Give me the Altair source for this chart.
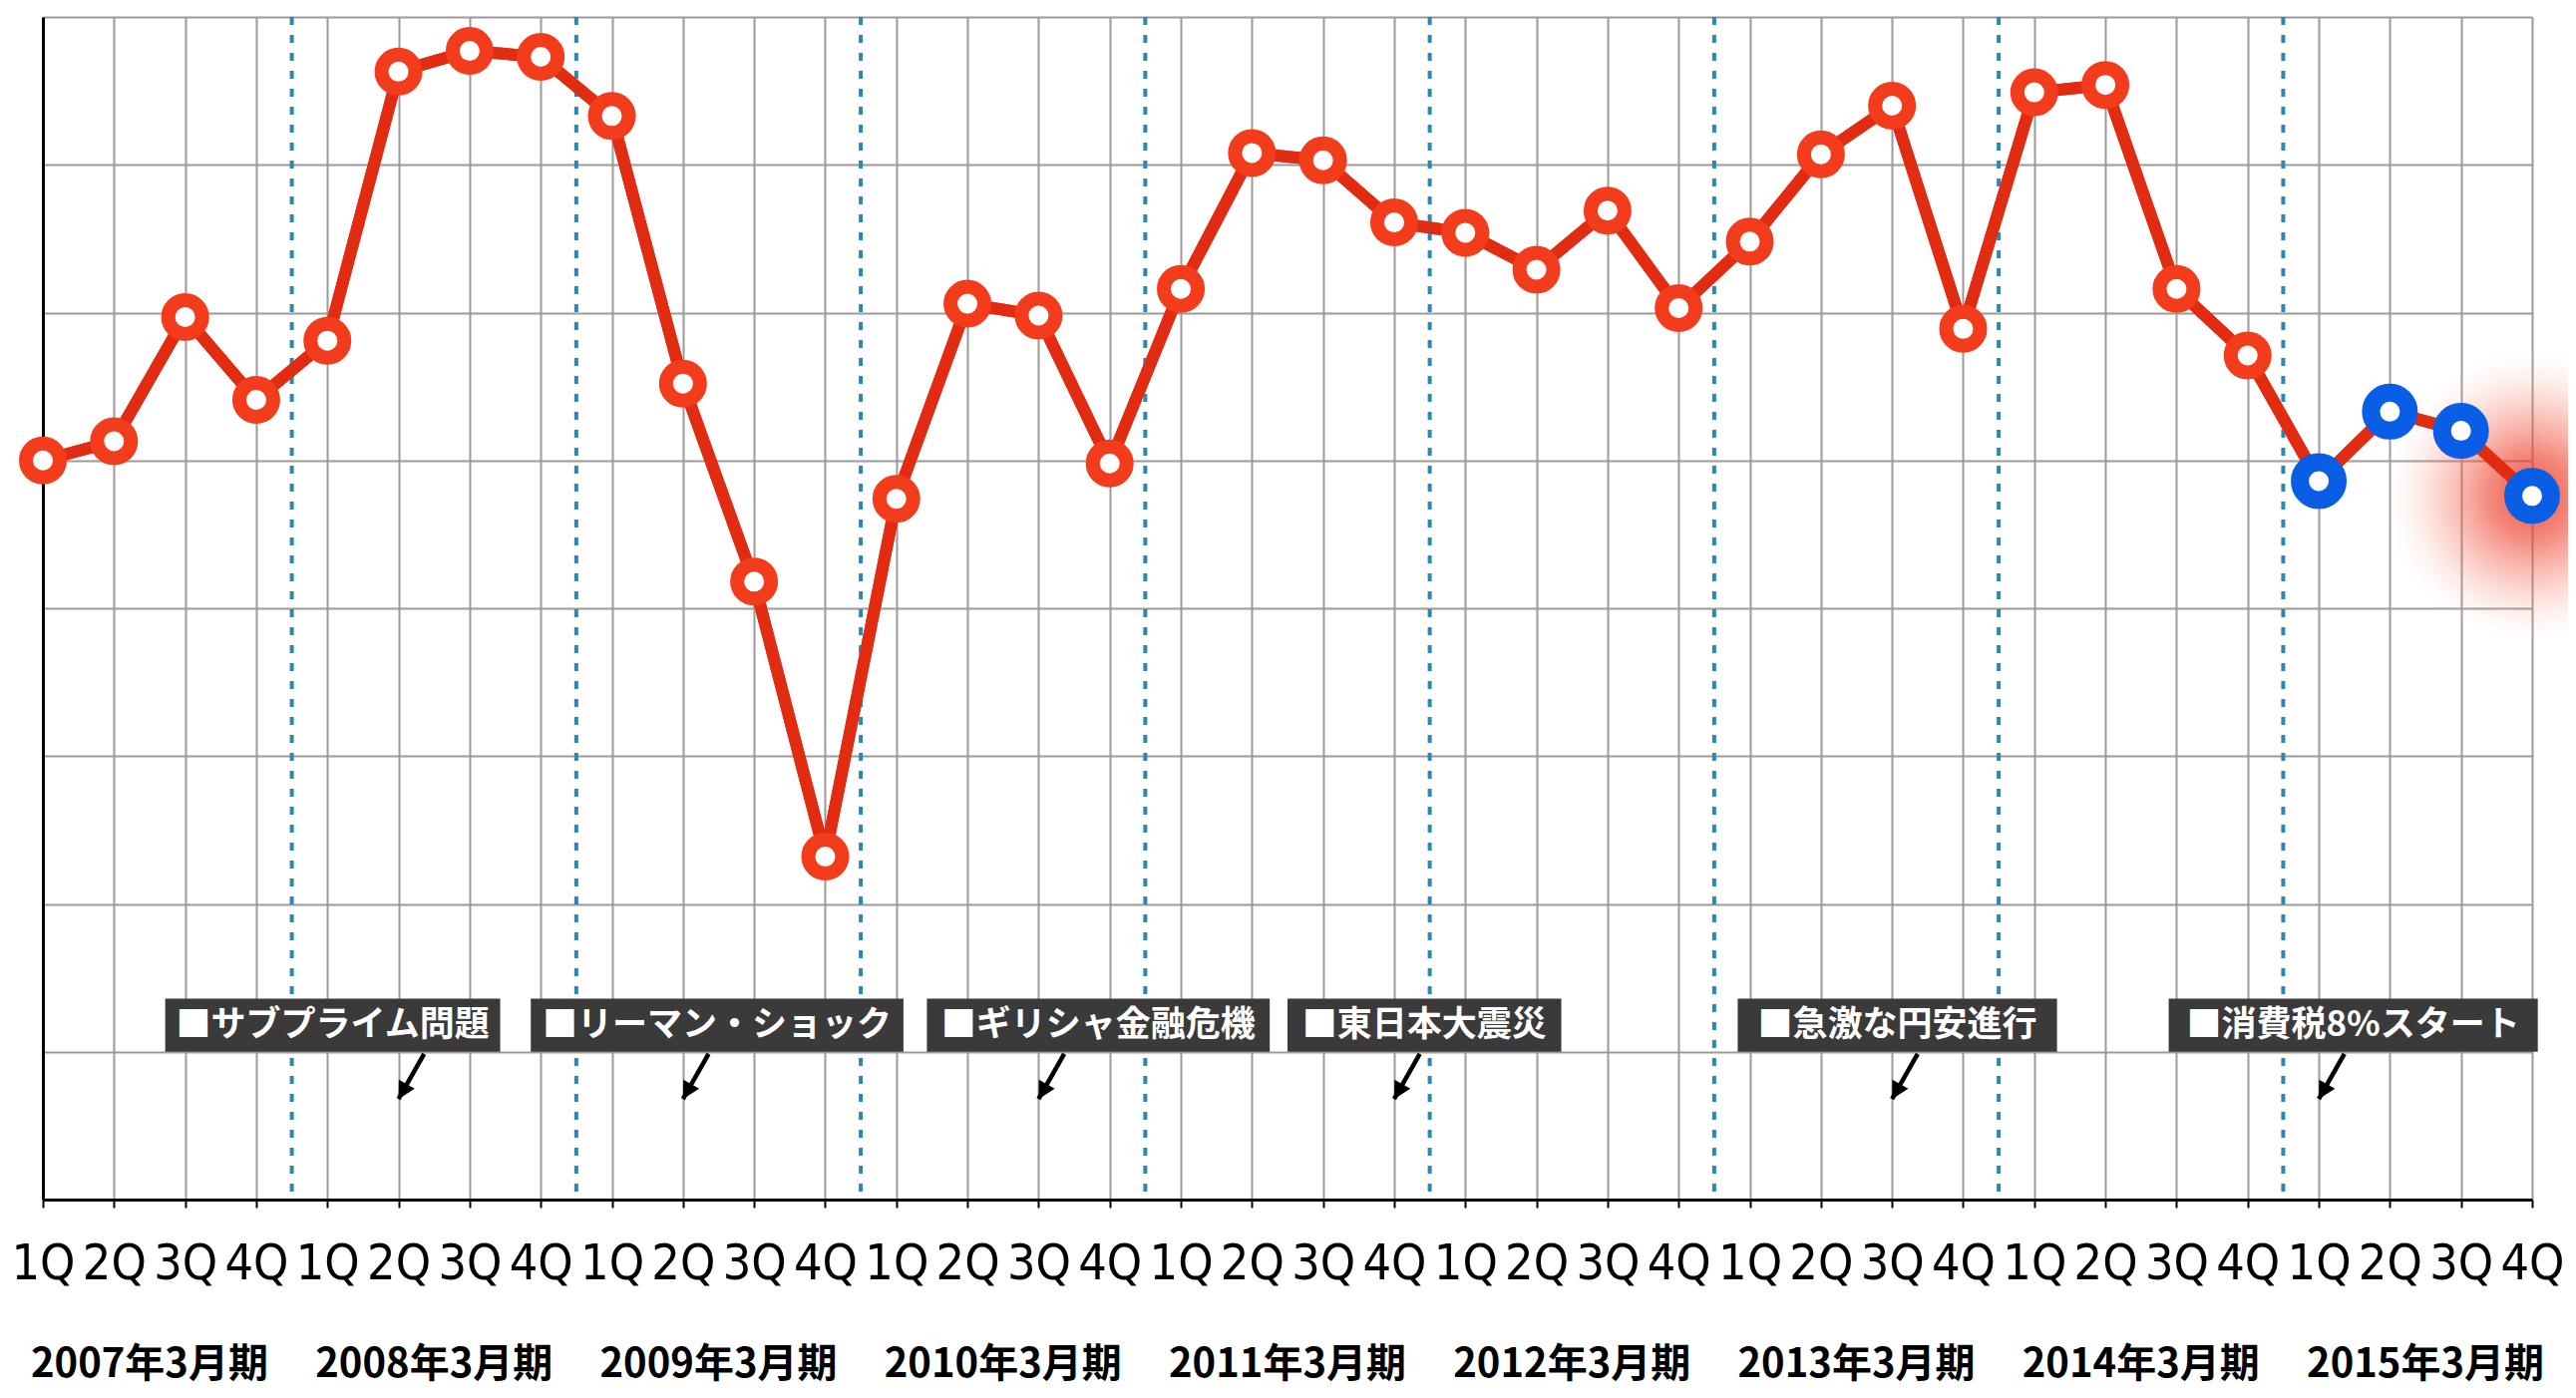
import altair as alt
import pandas as pd

# ---------------- data ----------------
quarter_labels = ["1Q", "2Q", "3Q", "4Q"]
fiscal_years = ["2007年3月期", "2008年3月期", "2009年3月期", "2010年3月期", "2011年3月期",
                "2012年3月期", "2013年3月期", "2014年3月期", "2015年3月期"]
values = [5.00, 5.13, 5.97, 5.41,
          5.81, 7.63, 7.77, 7.73,
          7.33, 5.52, 4.18, 2.32,
          4.74, 6.06, 5.98, 4.98,
          6.16, 7.08, 7.03, 6.61,
          6.54, 6.29, 6.69, 6.03,
          6.48, 7.07, 7.40, 5.89,
          7.49, 7.54, 6.16, 5.71,
          4.86, 5.33, 5.20, 4.76]
n_highlight = 4  # last four quarters drawn in blue

event_labels = ["■サブプライム問題", "■リーマン・ショック", "■ギリシャ金融危機",
                "■東日本大震災", "■急激な円安進行", "■消費税8%スタート"]
event_quarter = [5, 9, 14, 19, 26, 32]
box_start = [1.72, 6.86, 12.43, 17.50, 23.83, 29.89]
box_end = [6.43, 12.10, 17.25, 21.35, 28.32, 35.08]

# ---------------- frames ----------------
n = len(values)
df = pd.DataFrame({
    "i": list(range(n)),
    "v": values,
    "kind": ["actual"] * (n - n_highlight) + ["highlight"] * n_highlight,
})
df_years = pd.DataFrame({"xc": [4 * k + 1.5 for k in range(len(fiscal_years))],
                         "label": fiscal_years})
df_dash = pd.DataFrame({"x": [4 * k + 3.5 for k in range(len(fiscal_years) - 1)]})
df_ev = pd.DataFrame({
    "label": event_labels,
    "x0": box_start,
    "x1": box_end,
    "xc": [(a + b) / 2 for a, b in zip(box_start, box_end)],
    "tx": event_quarter,
    "sx": [q + 0.36 for q in event_quarter],
})
df_ev["y0"] = 1.0
df_ev["y1"] = 1.36
df_ev["yc"] = 1.18
df_ev["sy"] = 0.985
df_ev["ty"] = 0.68

# ---------------- styling ----------------
RED_LINE = "#e22c12"
RED_PT = "#f23c1c"
BLUE_PT = "#0a5ee6"
GRID = "#9a9a9a"
LAT_FONT = "Liberation Sans Narrow, DejaVu Sans Condensed, sans-serif"
CJK_FONT = "Noto Sans CJK JP, sans-serif"

xscale = alt.Scale(domain=[0, n - 1], nice=False, zero=False)
yscale = alt.Scale(domain=[0, 8], nice=False, zero=False)

label_expr = "[" + ",".join("'%s'" % q for q in quarter_labels) + "][datum.value % 4]"
x_axis = alt.Axis(values=list(range(n)), labelExpr=label_expr, title=None,
                  grid=True, gridColor=GRID, gridWidth=2,
                  domainColor="#000000", domainWidth=3,
                  tickColor="#000000", tickWidth=2, tickSize=8,
                  labelFont=LAT_FONT, labelFontSize=50, labelFontWeight="normal",
                  labelColor="#000000", labelPadding=71, labelBaseline="alphabetic",
                  labelFlush=False, labelOverlap=False, labelBound=False)
y_axis = alt.Axis(values=list(range(9)), labels=False, ticks=False, title=None,
                  grid=True, gridColor=GRID, gridWidth=2,
                  domainColor="#000000", domainWidth=3)


def X(field):
    return alt.X(field, scale=xscale, axis=x_axis)


def Y(field):
    return alt.Y(field, scale=yscale, axis=y_axis)


base = alt.Chart(df)

line = base.mark_line(color=RED_LINE, strokeWidth=12, strokeJoin="round").encode(
    x=X("i:Q"), y=Y("v:Q"))

dash = alt.Chart(df_dash).mark_rule(color="#2a88b4", strokeWidth=4,
                                    strokeDash=[8, 10]).encode(x=X("x:Q"))

glow_fill = alt.RadialGradient(
    gradient="radial",
    stops=[
        alt.GradientStop(color="rgba(236,50,32,0.85)", offset=0),
        alt.GradientStop(color="rgba(238,70,50,0.62)", offset=0.3),
        alt.GradientStop(color="rgba(242,110,90,0.32)", offset=0.6),
        alt.GradientStop(color="rgba(248,170,150,0.1)", offset=0.85),
        alt.GradientStop(color="rgba(255,255,255,0)", offset=1),
    ],
)
glow = base.transform_filter(alt.datum.i == n - 1).mark_circle(
    fill=glow_fill, size=300 * 300, opacity=1, strokeWidth=0).encode(
    x=X("i:Q"), y=Y("v:Q"))

red_pts = base.transform_filter(alt.datum.kind == "actual").mark_point(
    shape="circle", filled=True, fill="white", stroke=RED_PT, strokeWidth=14,
    size=1156, opacity=1, fillOpacity=1, strokeOpacity=1).encode(
    x=X("i:Q"), y=Y("v:Q"))
blue_pts = base.transform_filter(alt.datum.kind == "highlight").mark_point(
    shape="circle", filled=True, fill="white", stroke=BLUE_PT, strokeWidth=18,
    size=1444, opacity=1, fillOpacity=1, strokeOpacity=1).encode(
    x=X("i:Q"), y=Y("v:Q"))

ev = alt.Chart(df_ev)
boxes = ev.mark_rect(color="#3a3a3a", opacity=1).encode(
    x=X("x0:Q"), x2="x1:Q", y=Y("y0:Q"), y2="y1:Q")
box_text = ev.mark_text(color="white", font=CJK_FONT, fontSize=35, fontWeight="bold",
                        align="center", baseline="middle").encode(
    x=X("xc:Q"), y=Y("yc:Q"), text="label:N")
shaft = ev.mark_rule(color="#000000", strokeWidth=4.5).encode(
    x=X("sx:Q"), x2="tx:Q", y=Y("sy:Q"), y2="ty:Q")
head = ev.mark_point(shape="M0,0L-0.8,-1.5L0.8,-1.5Z", filled=True, fill="#000000",
                     strokeWidth=0, size=520, angle=29, opacity=1).encode(
    x=X("tx:Q"), y=Y("ty:Q"))

years = alt.Chart(df_years).mark_text(font=CJK_FONT, fontSize=40, fontWeight="bold",
                                      color="#000000", align="center",
                                      baseline="alphabetic").encode(
    x=X("xc:Q"), y=alt.value(1364), text="label:N")

chart = alt.layer(line, dash, glow, line, red_pts, blue_pts, boxes, box_text,
                  shaft, head, years).properties(
    width=2496, height=1186,
    padding={"left": 35, "top": 9, "right": 36, "bottom": 191},
    autosize="none",
    background="white",
).configure_view(stroke=None)

chart.save("out.html", embed_options={"renderer": "svg", "actions": False})
